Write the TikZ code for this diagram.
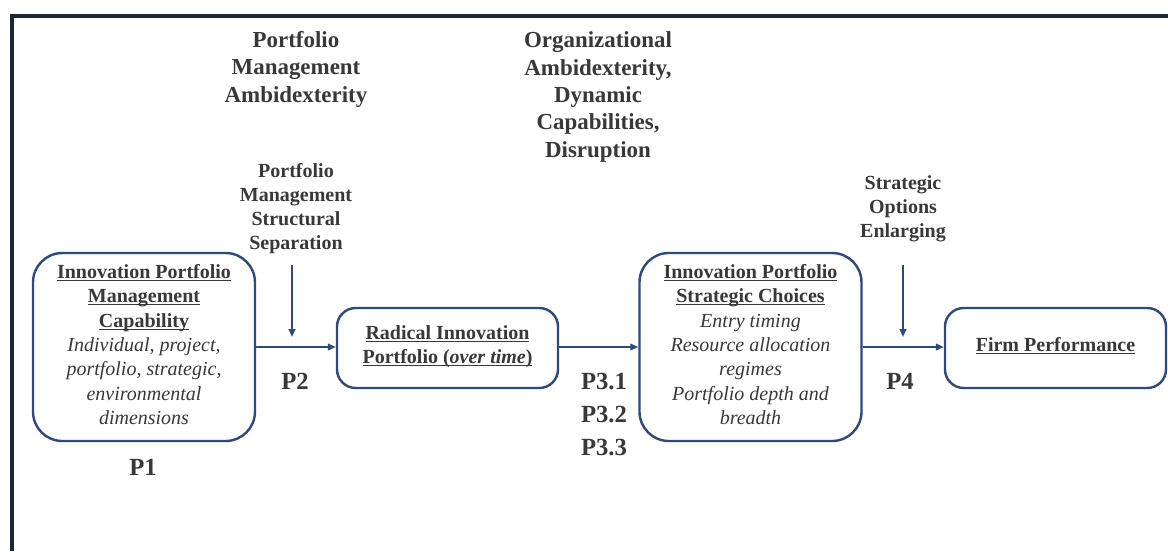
\documentclass[tikz,border=0pt]{standalone}
\usepackage{fontspec}
\setmainfont{Liberation Serif}
\usetikzlibrary{arrows.meta}
\definecolor{navy}{HTML}{2C4A7E}
\definecolor{ink}{HTML}{383838}
\definecolor{framec}{HTML}{1E2633}
\tikzset{
  body/.style={font=\fontsize{15}{18.3}\selectfont, text=ink, align=center},
  head/.style={font=\bfseries\fontsize{17.2}{20.6}\selectfont, text=ink, align=center},
  modlabel/.style={font=\bfseries\fontsize{15}{18}\selectfont, text=ink, align=center},
  plabel/.style={font=\bfseries\fontsize{18.5}{24.75}\selectfont, text=ink, align=center},
  bigbox/.style={body, draw=navy, line width=1.8pt, rounded corners=22pt,
    minimum width=166.5pt, minimum height=141pt, inner sep=0pt},
  smallbox/.style={body, draw=navy, line width=1.8pt, rounded corners=14pt,
    minimum width=165.75pt, minimum height=60pt, inner sep=0pt},
  arr/.style={draw=navy, line width=1.4pt, -{Triangle[length=6pt,width=5pt]}},
}
% bold title text with an underline at a fixed depth below the baseline
\newcommand{\ttl}[1]{\textbf{\underline{\smash{#1}\vphantom{x}}}}
\begin{document}
\begin{tikzpicture}[x=0.75pt,y=-0.75pt]
\useasboundingbox (0,0) rectangle (1168,551);
% outer frame (left and top rules)
\draw[framec, line width=2.3pt] (12,551) -- (12,16) -- (1168,16);

% top headings
\node[head] (hamb) at (296,69) {Portfolio\\Management\\Ambidexterity};
\node[head] (horg) at (598,97) {Organizational\\Ambidexterity,\\Dynamic\\Capabilities,\\Disruption};

% moderators
\node[modlabel] (msep) at (296,209) {Portfolio\\Management\\Structural\\Separation};
\node[modlabel] (mopt) at (903,209) {Strategic\\Options\\Enlarging};

% main boxes
\node[bigbox] (b1) at (144,347) {\ttl{Innovation Portfolio}\\\ttl{Management}\\\ttl{Capability}\\
  \textit{Individual, project,}\\\textit{portfolio, strategic,}\\\textit{environmental}\\\textit{dimensions}};
\node[smallbox] (b2) at (447.5,348) {\ttl{Radical Innovation}\\\ttl{Portfolio (\textit{over time})}};
\node[bigbox] (b3) at (750.5,347) {\ttl{Innovation Portfolio}\\\ttl{Strategic Choices}\\
  \textit{Entry timing}\\\textit{Resource allocation}\\\textit{regimes}\\\textit{Portfolio depth and}\\\textit{breadth}};
\node[smallbox] (b4) at (1055.5,348) {\ttl{Firm Performance}};

% connectors
\draw[arr] (b1.east |- 0,347) -- (b2.west |- 0,347);
\draw[arr] (b2.east |- 0,347) -- (b3.west |- 0,347);
\draw[arr] (b3.east |- 0,347) -- (b4.west |- 0,347);
\coordinate (s1a) at (292,265);
\coordinate (s1b) at (292,337);
\coordinate (s2a) at (903,265);
\coordinate (s2b) at (903,337);
\draw[arr] (s1a) -- (s1b);
\draw[arr] (s2a) -- (s2b);

% proposition labels
\node[plabel] (p1) at (143,467) {P1};
\node[plabel] (p2) at (295,381) {P2};
\node[plabel] (p3) at (604,414) {P3.1\\P3.2\\P3.3};
\node[plabel] (p4) at (900,381) {P4};
\end{tikzpicture}
\end{document}
